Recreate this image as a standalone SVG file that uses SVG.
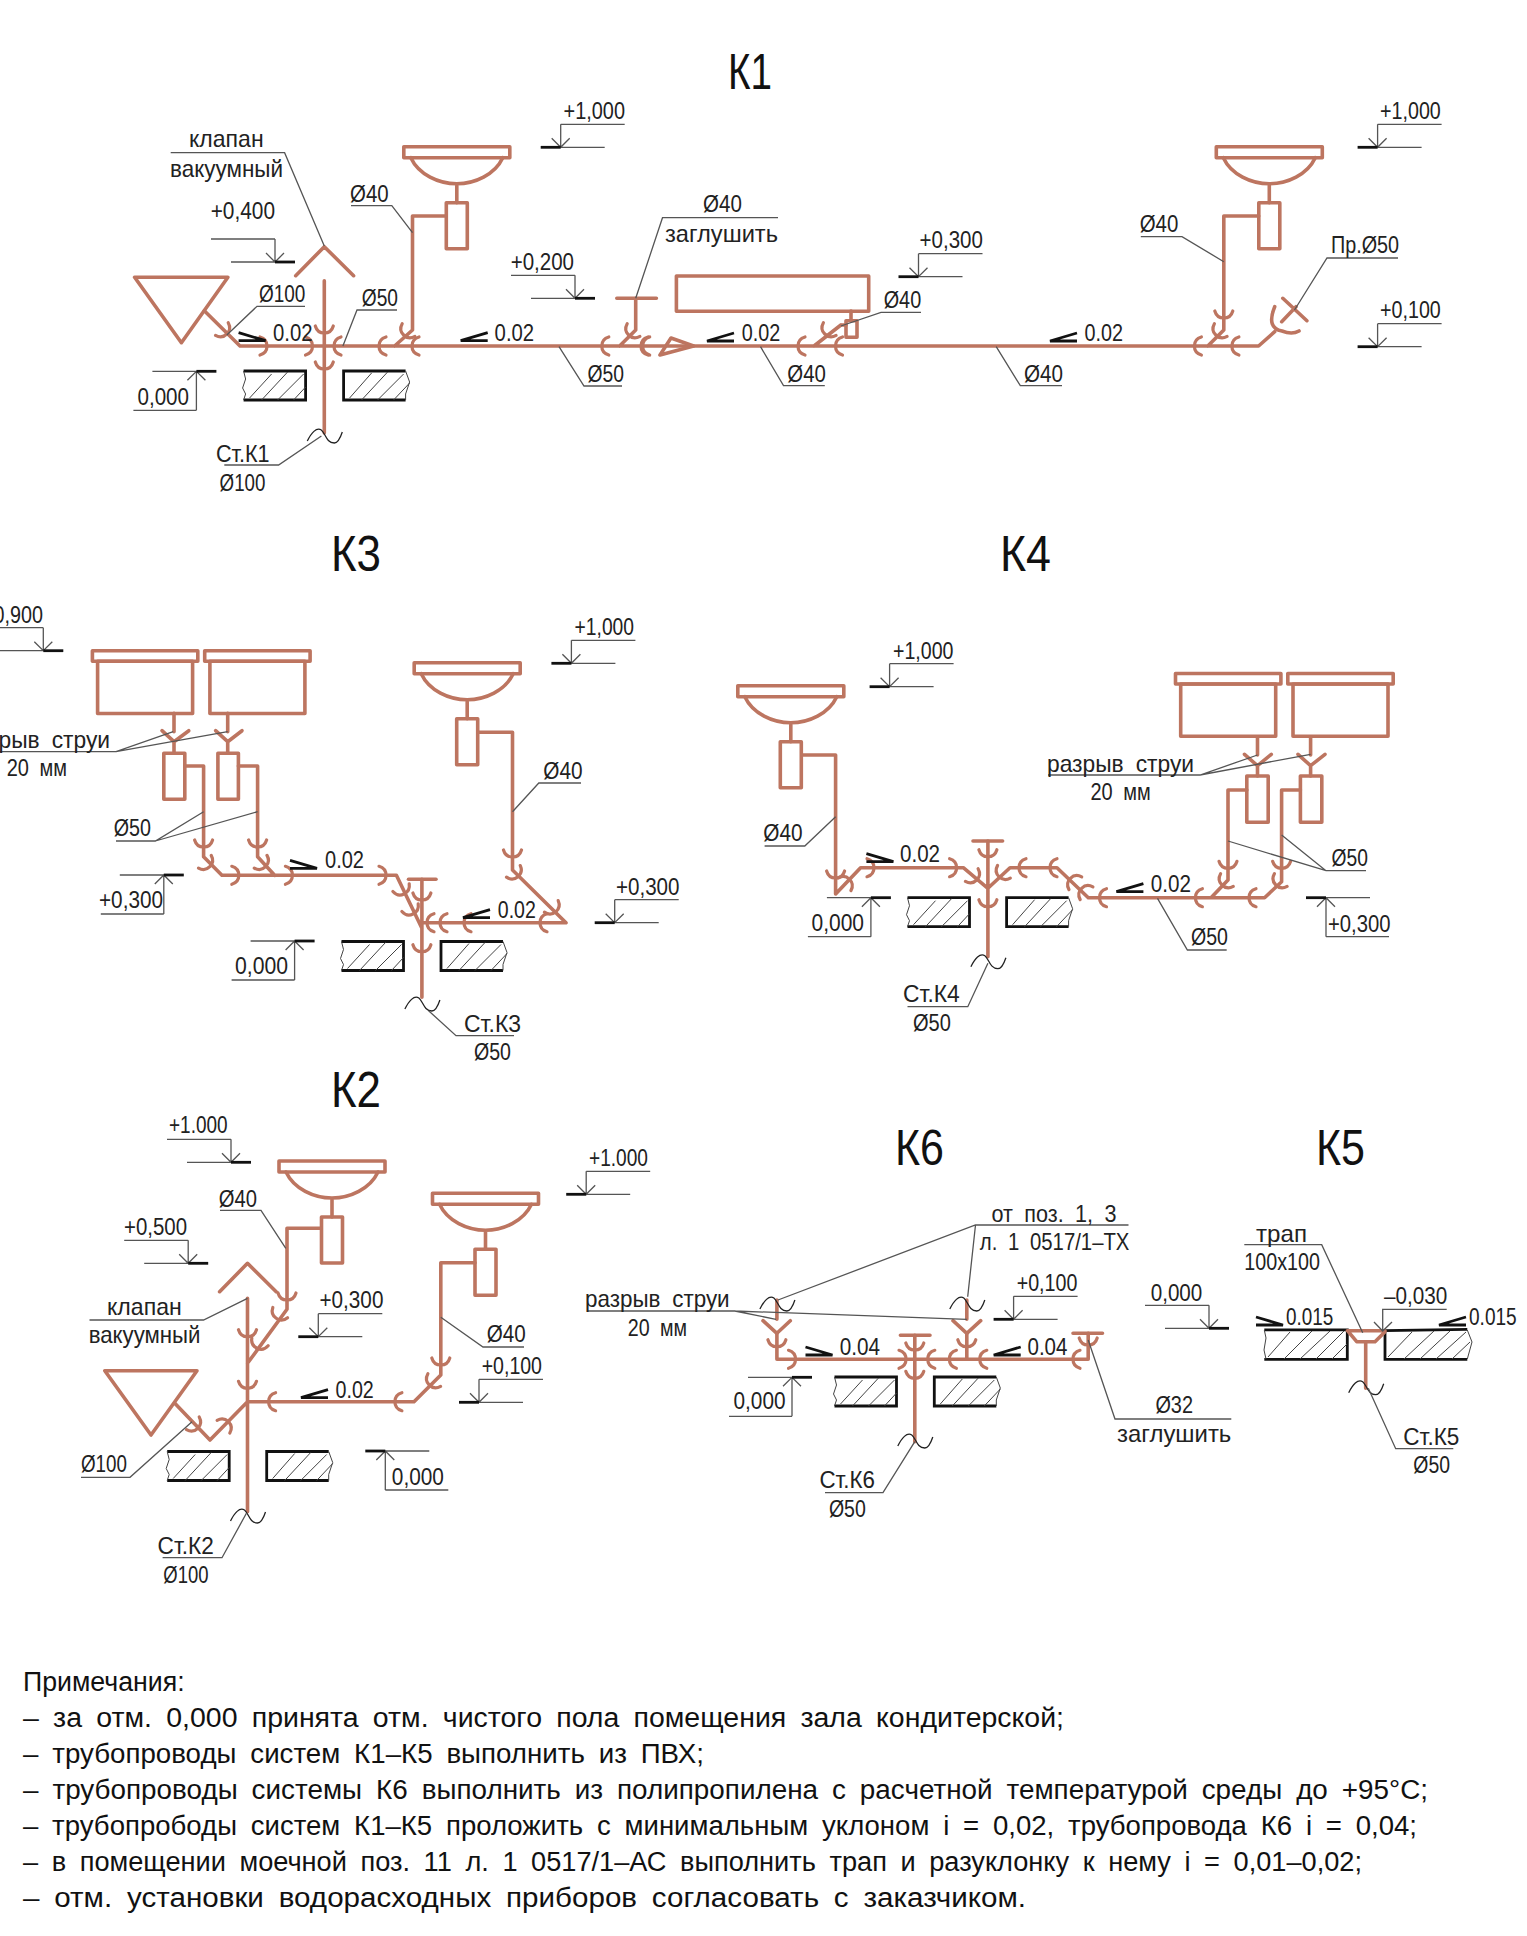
<svg xmlns="http://www.w3.org/2000/svg" width="1527" height="1936" viewBox="0 0 1527 1936">
<style>
text{font-family:"Liberation Sans","DejaVu Sans",sans-serif;font-size:24px;word-spacing:6px;fill:#222}
.ti{font-size:50px;fill:#111}
.no{font-size:27px;word-spacing:6px;fill:#111}
.p{fill:none;stroke:#bd7560;stroke-width:3.6;stroke-linejoin:round;stroke-linecap:round}
.m{fill:none;stroke:#bd7560;stroke-width:3.2;stroke-linecap:round}
.t{fill:none;stroke:#555;stroke-width:1.3}
.w{fill:none;stroke:#222;stroke-width:1.3}
.b{fill:none;stroke:#111;stroke-width:2.8}
.h{fill:none;stroke:#444;stroke-width:1}
</style>
<defs>
<path id="m" class="m" d="M-7,-9Q0,-7 0,0Q0,7 -7,9"/>
<g id="ld"><path class="t" d="M0,-23V0M-9,-9L0,0L9,-9M0,-23H64M0,0H44"/><path class="b" d="M-20,0H0"/></g>
<g id="lu"><path class="t" d="M0,39V0M-9,9L0,0L9,9M0,39H-63M-44,0H0"/><path class="b" d="M0,0H20"/></g>
<path id="wr" class="b" d="M0,-8L27,0H0"/>
<path id="wl" class="b" d="M27,-8L0,0H27"/>
<path id="wv" class="w" d="M-17,6C-13,-2 -8,-8 -3,-5C1,-2 2,8 10,8C13,8 16,3 18,-3"/>
<g id="sink" class="p"><rect x="-53" y="0" width="106" height="11"/><path d="M-46,11C-38,28 -18,37 0,37C18,37 38,28 46,11M0,37V56"/><rect x="-10.5" y="56" width="21" height="46"/></g>
<g id="tub" class="p"><rect x="-52.7" y="0" width="105.4" height="10.5"/><rect x="-47.5" y="10.5" width="95" height="52.3"/></g>
<g id="sl"><path class="b" d="M0,0H62V29H0"/><path class="h" d="M0,0L2,8L-1,17L2,23L0,29M6,27L28,3M18,29L44,1M34,29L60,3M50,29L62,16"/></g>
<g id="sr"><path class="b" d="M62,0H0V29H62"/><path class="h" d="M62,0L66,11L62,23L62,29M6,27L28,2M18,29L44,1M34,29L60,3M50,29L66,12"/></g>
</defs>
<rect width="1527" height="1936" fill="#fff"/>

<g id="K1">
<text class="ti" x="728" y="89" textLength="44" lengthAdjust="spacingAndGlyphs">К1</text>
<g id="K1-fixtures">
<path class="p" d="M134.6,277.3H227.9L181.4,342.7ZM295.7,275.7L324.3,246.7L353.6,275.7"/>
<use href="#sink" x="456.8" y="146.7"/>
<use href="#sink" x="1269.3" y="146.7"/>
<rect class="p" x="676.4" y="276" width="192.3" height="35.3"/>
<rect class="p" x="846" y="320.7" width="11" height="16.6"/>
<path class="p" d="M851,311V320.7M660,355L693.6,346L671,338ZM616.8,298.3H656.4"/>
<path class="p" d="M1274.7,306.7Q1266,328 1282,331Q1292,335 1299,331M1282.8,298.3L1306.9,320.7M1281.7,321.7L1296,306.7"/>
</g>
<g id="K1-pipes">
<path class="p" d="M204.3,310.7L240,346H1258.6L1274.7,331.7M324.3,280.7V433M412.5,216H445.7M412.5,216V330L394.6,346M635.7,298.3V330L619.6,346M840.9,325L814,346M840.9,325H846M1223.8,216H1258.7M1223.8,216V330L1207.8,346"/>
<use href="#m" transform="translate(226.8,334) rotate(45)"/>
<use href="#m" transform="translate(267,346)"/>
<use href="#m" transform="translate(312.5,346)"/>
<use href="#m" transform="translate(334,346) rotate(180)"/>
<use href="#m" transform="translate(379,346) rotate(180)"/>
<use href="#m" transform="translate(412,346) rotate(180)"/>
<use href="#m" transform="translate(324.3,333) rotate(90)"/>
<use href="#m" transform="translate(324.3,369) rotate(90)"/>
<use href="#m" transform="translate(403.6,335) rotate(135)"/>
<use href="#m" transform="translate(601.8,346) rotate(180)"/>
<use href="#m" transform="translate(641,346) rotate(180)"/>
<use href="#m" transform="translate(628.6,335) rotate(135)"/>
<use href="#m" transform="translate(642.7,346) rotate(180)"/>
<use href="#m" transform="translate(798,346) rotate(180)"/>
<use href="#m" transform="translate(835.5,346) rotate(180)"/>
<use href="#m" transform="translate(824.8,334) rotate(135)"/>
<use href="#m" transform="translate(1223.8,318) rotate(90)"/>
<use href="#m" transform="translate(1215.8,335) rotate(135)"/>
<use href="#m" transform="translate(1194.4,346) rotate(180)"/>
<use href="#m" transform="translate(1231.9,346) rotate(180)"/>
</g>
<g id="K1-labels">
<use href="#sl" x="243.6" y="371"/><use href="#sr" x="343.6" y="371"/>
<use href="#wv" x="324.3" y="435"/>
<use href="#wr" x="238.6" y="340.7"/><use href="#wl" x="460.7" y="340.7"/><use href="#wl" x="707" y="341"/><use href="#wl" x="1050" y="341"/>
<use href="#ld" x="560.7" y="147.3"/>
<use href="#ld" transform="translate(275,262) scale(-1,1)"/>
<use href="#ld" transform="translate(575,298.3) scale(-1,1)"/>
<use href="#lu" x="196.4" y="371.3"/>
<use href="#ld" x="918.5" y="276.7"/><use href="#ld" x="1377.6" y="147.3"/><use href="#ld" x="1377.6" y="346.7"/>
<path class="t" d="M170.7,152.7H284.6L324.3,246M351,205.7H391.8L412.5,232.7M305,306.3H257L226.8,335M397,310H357L342.9,346M622,386H584L559,346.7M224.3,465H278.6L321.4,436M778,217.7H662.5L635.7,298.3M921,312.3H881L840.9,326M824.8,385.7H783.5L760.5,346.7M1062,385.7H1020.3L996.2,346.7M1140.8,236.7H1182L1223.8,261.7M1398,258H1327L1294.5,310"/>
<text x="273" y="340.7" textLength="39.5" lengthAdjust="spacingAndGlyphs">0.02</text>
<text x="494.6" y="340.7" textLength="39.5" lengthAdjust="spacingAndGlyphs">0.02</text>
<text x="741.8" y="341" textLength="38.5" lengthAdjust="spacingAndGlyphs">0.02</text>
<text x="1084.6" y="341" textLength="38.5" lengthAdjust="spacingAndGlyphs">0.02</text>
<text x="189" y="147.3" textLength="74.6" lengthAdjust="spacingAndGlyphs">клапан</text>
<text x="170" y="176.7" textLength="113" lengthAdjust="spacingAndGlyphs">вакуумный</text>
<text x="210.7" y="219" textLength="64.3" lengthAdjust="spacingAndGlyphs">+0,400</text>
<text x="563.6" y="119" textLength="61.4" lengthAdjust="spacingAndGlyphs">+1,000</text>
<text x="510.7" y="270" textLength="63.3" lengthAdjust="spacingAndGlyphs">+0,200</text>
<text x="137.5" y="405" textLength="51.5" lengthAdjust="spacingAndGlyphs">0,000</text>
<text x="350" y="201.7" textLength="38.6" lengthAdjust="spacingAndGlyphs">Ø40</text>
<text x="259" y="301.7" textLength="46.4" lengthAdjust="spacingAndGlyphs">Ø100</text>
<text x="361.8" y="306" textLength="36.2" lengthAdjust="spacingAndGlyphs">Ø50</text>
<text x="587.5" y="381.7" textLength="36.5" lengthAdjust="spacingAndGlyphs">Ø50</text>
<text x="216" y="462.3" textLength="53.6" lengthAdjust="spacingAndGlyphs">Ст.К1</text>
<text x="219.6" y="490.7" textLength="45.8" lengthAdjust="spacingAndGlyphs">Ø100</text>
<text x="703" y="212.3" textLength="38.8" lengthAdjust="spacingAndGlyphs">Ø40</text>
<text x="665" y="242.3" textLength="113" lengthAdjust="spacingAndGlyphs">заглушить</text>
<text x="919.6" y="247.7" textLength="63.2" lengthAdjust="spacingAndGlyphs">+0,300</text>
<text x="883.7" y="308.3" textLength="37.5" lengthAdjust="spacingAndGlyphs">Ø40</text>
<text x="787.3" y="381.7" textLength="38.6" lengthAdjust="spacingAndGlyphs">Ø40</text>
<text x="1024" y="381.7" textLength="39" lengthAdjust="spacingAndGlyphs">Ø40</text>
<text x="1139.7" y="232.3" textLength="38.6" lengthAdjust="spacingAndGlyphs">Ø40</text>
<text x="1331" y="253.3" textLength="68" lengthAdjust="spacingAndGlyphs">Пр.Ø50</text>
<text x="1380" y="119" textLength="60.8" lengthAdjust="spacingAndGlyphs">+1,000</text>
<text x="1380" y="317.7" textLength="60.8" lengthAdjust="spacingAndGlyphs">+0,100</text>
</g>
</g>

<g id="K3">
<text class="ti" x="331" y="571" textLength="50" lengthAdjust="spacingAndGlyphs">К3</text>
<g id="K3-fixtures">
<use href="#tub" x="145.1" y="650.7"/><use href="#tub" x="257.4" y="650.7"/>
<use href="#sink" x="467.2" y="662.7"/>
<path class="p" d="M174,713.3V731.7M227.7,713.3V731.7M162,730.7L174,741.7L188.8,730.7M174,741.7V753.3M215.6,730.7L227.7,741.7L242,730.7M227.7,741.7V753.3"/>
<rect class="p" x="163.8" y="753.3" width="21" height="46"/><rect class="p" x="217.9" y="753.3" width="20.5" height="46"/>
<path class="p" d="M408.5,879.3H436"/>
</g>
<g id="K3-pipes">
<path class="p" d="M184.8,766H203.6V856.7L221.9,875.3H396.4L421.9,928.3M238.4,766H257.6V856.7L274.6,875.3M421.9,879.3V997.3M477.7,732.3H512.5V870L566,922.7H421.9"/>
<use href="#m" transform="translate(203.6,847) rotate(90)"/>
<use href="#m" transform="translate(257.6,847) rotate(90)"/>
<use href="#m" transform="translate(209.8,866.7) rotate(45)"/>
<use href="#m" transform="translate(265.6,866.7) rotate(45)"/>
<use href="#m" transform="translate(238.8,875.3)"/>
<use href="#m" transform="translate(292.4,875.3)"/>
<use href="#m" transform="translate(386,875.3)"/>
<use href="#m" transform="translate(404,894) rotate(65)"/>
<use href="#m" transform="translate(413,914) rotate(65)"/>
<use href="#m" transform="translate(421.9,900) rotate(90)"/>
<use href="#m" transform="translate(421.9,951.7) rotate(90)"/>
<use href="#m" transform="translate(427,922.7) rotate(180)"/>
<use href="#m" transform="translate(440,922.7) rotate(180)"/>
<use href="#m" transform="translate(464,922.7) rotate(180)"/>
<use href="#m" transform="translate(540,922.7) rotate(180)"/>
<use href="#m" transform="translate(512.5,857) rotate(90)"/>
<use href="#m" transform="translate(517.9,876.7) rotate(50)"/>
<use href="#m" transform="translate(555.8,911.7) rotate(50)"/>
</g>
<g id="K3-labels">
<use href="#sl" x="341.5" y="941.5"/><use href="#sr" x="441" y="941.5"/>
<use href="#wv" x="421.9" y="1003"/>
<use href="#wr" x="290" y="868.3"/><use href="#wl" x="463" y="917.7"/>
<use href="#ld" transform="translate(43.3,650.7) scale(-1,1)"/>
<use href="#ld" x="571.4" y="663.3"/><use href="#ld" x="614.7" y="922.7"/>
<use href="#lu" x="163.8" y="875"/><use href="#lu" x="294.6" y="941"/>
<path class="t" d="M-40,751.7H116L173.2,731.7M116,751.7L227.7,731.7M116,841H155.4L203.6,811.7M155.4,841L257.6,811.7M581,783H538.8L512.5,811.7M514,1035.7H456L428.6,1010.7"/>
<text x="-18" y="622.7" textLength="61" lengthAdjust="spacingAndGlyphs">+0,900</text>
<text x="-37" y="748.3" textLength="147" lengthAdjust="spacingAndGlyphs">разрыв струи</text>
<text x="6.7" y="776" textLength="60.3" lengthAdjust="spacingAndGlyphs">20 мм</text>
<text x="113.8" y="836" textLength="37.2" lengthAdjust="spacingAndGlyphs">Ø50</text>
<text x="99" y="908.3" textLength="64" lengthAdjust="spacingAndGlyphs">+0,300</text>
<text x="235" y="974.3" textLength="53" lengthAdjust="spacingAndGlyphs">0,000</text>
<text x="574.6" y="635" textLength="59.4" lengthAdjust="spacingAndGlyphs">+1,000</text>
<text x="543.3" y="779.3" textLength="39.3" lengthAdjust="spacingAndGlyphs">Ø40</text>
<text x="616" y="895" textLength="63.5" lengthAdjust="spacingAndGlyphs">+0,300</text>
<text x="325" y="868.3" textLength="39" lengthAdjust="spacingAndGlyphs">0.02</text>
<text x="497.8" y="917.7" textLength="38" lengthAdjust="spacingAndGlyphs">0.02</text>
<text x="464" y="1031.7" textLength="57" lengthAdjust="spacingAndGlyphs">Ст.К3</text>
<text x="474" y="1060" textLength="37" lengthAdjust="spacingAndGlyphs">Ø50</text>
</g>
</g>

<g id="K4">
<text class="ti" x="1000" y="571" textLength="51" lengthAdjust="spacingAndGlyphs">К4</text>
<g id="K4-fixtures">
<use href="#sink" x="790.8" y="685.7"/>
<use href="#tub" x="1228.2" y="673.5"/><use href="#tub" x="1340.5" y="673.5"/>
<path class="p" d="M1257.5,736.7V755M1244.5,754.3L1257.5,765.7L1271.3,754.3M1257.5,765.7V776M1310.6,736.7V755M1298,754.3L1310.6,765.7L1325,754.3M1310.6,765.7V776M973,841H1002.6"/>
<rect class="p" x="1246.8" y="776" width="21.4" height="46.3"/><rect class="p" x="1300.4" y="776" width="21.4" height="46.3"/>
</g>
<g id="K4-pipes">
<path class="p" d="M802,755H835.6V894L860.6,867.7H963.3L987.9,888.3M987.9,841V956.7M987.9,888.3L1010,867.7H1057L1088.3,897.7H1264.6L1281.6,881.7V790H1300.4M1211,897.7L1228,880V790H1246.8"/>
<use href="#m" transform="translate(835.6,878) rotate(90)"/>
<use href="#m" transform="translate(849.5,879.3) rotate(-45)"/>
<use href="#m" transform="translate(874,867.7)"/>
<use href="#m" transform="translate(956.6,867.7)"/>
<use href="#m" transform="translate(976.7,880) rotate(45)"/>
<use href="#m" transform="translate(999,876.7) rotate(135)"/>
<use href="#m" transform="translate(987.9,856.7) rotate(90)"/>
<use href="#m" transform="translate(987.9,906.7) rotate(90)"/>
<use href="#m" transform="translate(1019,867.7) rotate(180)"/>
<use href="#m" transform="translate(1050,867.7) rotate(180)"/>
<use href="#m" transform="translate(1070.4,878.3) rotate(225)"/>
<use href="#m" transform="translate(1081.6,888.3) rotate(225)"/>
<use href="#m" transform="translate(1099.5,897.7) rotate(180)"/>
<use href="#m" transform="translate(1195.4,897.7) rotate(180)"/>
<use href="#m" transform="translate(1249,897.7) rotate(180)"/>
<use href="#m" transform="translate(1228,868.3) rotate(90)"/>
<use href="#m" transform="translate(1281.6,868.3) rotate(90)"/>
<use href="#m" transform="translate(1222,885) rotate(135)"/>
<use href="#m" transform="translate(1275.8,885) rotate(135)"/>
</g>
<g id="K4-labels">
<use href="#sl" x="907.5" y="897.7"/><use href="#sr" x="1006.6" y="897.7"/>
<use href="#wv" x="987.9" y="960.7"/>
<use href="#wr" x="866.4" y="861.7"/><use href="#wl" x="1116.4" y="891.7"/>
<use href="#ld" x="889.6" y="686.7"/>
<use href="#lu" x="870.9" y="897.7"/>
<use href="#lu" transform="translate(1326,897.7) scale(-1,1)"/>
<path class="t" d="M1048,775H1200L1257.5,755M1200,775L1310.6,754.3M764.6,846H804.8L835.6,816.7M1226.7,950H1187.4L1157.5,898.3M1366,870.7H1326L1228,841M1326,870.7L1281.6,835M907.5,1006.7H967.8L987.9,963.3"/>
<text x="893" y="659" textLength="60.5" lengthAdjust="spacingAndGlyphs">+1,000</text>
<text x="1047" y="771.7" textLength="147" lengthAdjust="spacingAndGlyphs">разрыв струи</text>
<text x="1090.5" y="800" textLength="60.3" lengthAdjust="spacingAndGlyphs">20 мм</text>
<text x="763.3" y="841" textLength="39.3" lengthAdjust="spacingAndGlyphs">Ø40</text>
<text x="811.5" y="931" textLength="52.5" lengthAdjust="spacingAndGlyphs">0,000</text>
<text x="900" y="861.7" textLength="40" lengthAdjust="spacingAndGlyphs">0.02</text>
<text x="1150.8" y="891.7" textLength="40.2" lengthAdjust="spacingAndGlyphs">0.02</text>
<text x="1191" y="945" textLength="37" lengthAdjust="spacingAndGlyphs">Ø50</text>
<text x="1331.6" y="866" textLength="36.4" lengthAdjust="spacingAndGlyphs">Ø50</text>
<text x="1328" y="931.7" textLength="62.5" lengthAdjust="spacingAndGlyphs">+0,300</text>
<text x="903" y="1001.7" textLength="56.7" lengthAdjust="spacingAndGlyphs">Ст.К4</text>
<text x="912.9" y="1031" textLength="37.9" lengthAdjust="spacingAndGlyphs">Ø50</text>
</g>
</g>

<g id="K2">
<text class="ti" x="331" y="1107" textLength="50" lengthAdjust="spacingAndGlyphs">К2</text>
<g id="K2-fixtures">
<use href="#sink" x="332" y="1161"/><use href="#sink" x="485.5" y="1193.3"/>
<path class="p" d="M104.8,1370.7H197L151,1435ZM219.6,1291.7L247.5,1263.3L276.2,1291.7"/>
</g>
<g id="K2-pipes">
<path class="p" d="M321,1228.3H287V1309.3L247.5,1363.3M247.5,1298.3V1511.7M475,1262.7H440.8V1375L414,1401.7H247.5M174.8,1403.3L210,1440L247.5,1401.7"/>
<use href="#m" transform="translate(287,1300) rotate(90)"/>
<use href="#m" transform="translate(276.2,1318.3) rotate(125)"/>
<use href="#m" transform="translate(257,1348.3) rotate(115)"/>
<use href="#m" transform="translate(247.5,1336.7) rotate(90)"/>
<use href="#m" transform="translate(247.5,1388.3) rotate(90)"/>
<use href="#m" transform="translate(440.8,1365) rotate(90)"/>
<use href="#m" transform="translate(429.3,1385) rotate(135)"/>
<use href="#m" transform="translate(394.9,1401.7) rotate(180)"/>
<use href="#m" transform="translate(268.6,1401.7) rotate(180)"/>
<use href="#m" transform="translate(197.8,1428.3) rotate(45)"/>
<use href="#m" transform="translate(228.4,1421.7) rotate(-45)"/>
</g>
<g id="K2-labels">
<use href="#sl" x="167.2" y="1451.5"/><use href="#sr" x="266.7" y="1451.5"/>
<use href="#wv" x="247.5" y="1515"/>
<use href="#wl" x="301" y="1397.7"/>
<use href="#ld" transform="translate(231,1162.3) scale(-1,1)"/>
<use href="#ld" transform="translate(188.2,1263.3) scale(-1,1)"/>
<use href="#ld" x="318.3" y="1336.7"/><use href="#ld" x="586.2" y="1194.3"/><use href="#ld" x="479" y="1402.3"/>
<use href="#lu" transform="translate(385.3,1451) scale(-1,1)"/>
<path class="t" d="M220,1210.3H261L285.8,1248.3M89.5,1320H203.5L247.5,1298.3M524,1347H483L440.8,1317.3M81,1477.3H130L192,1421.7M162.6,1557.7H222L246.4,1513.3"/>
<text x="169" y="1133.3" textLength="58.6" lengthAdjust="spacingAndGlyphs">+1.000</text>
<text x="124" y="1235" textLength="63" lengthAdjust="spacingAndGlyphs">+0,500</text>
<text x="218.8" y="1206.7" textLength="38.2" lengthAdjust="spacingAndGlyphs">Ø40</text>
<text x="319.5" y="1307.7" textLength="63.9" lengthAdjust="spacingAndGlyphs">+0,300</text>
<text x="107" y="1315" textLength="74.7" lengthAdjust="spacingAndGlyphs">клапан</text>
<text x="88.7" y="1342.7" textLength="111.8" lengthAdjust="spacingAndGlyphs">вакуумный</text>
<text x="589" y="1165.7" textLength="59" lengthAdjust="spacingAndGlyphs">+1.000</text>
<text x="486.7" y="1342.3" textLength="39" lengthAdjust="spacingAndGlyphs">Ø40</text>
<text x="481.7" y="1374" textLength="60.3" lengthAdjust="spacingAndGlyphs">+0,100</text>
<text x="335.5" y="1397.7" textLength="38.3" lengthAdjust="spacingAndGlyphs">0.02</text>
<text x="81" y="1472.3" textLength="46" lengthAdjust="spacingAndGlyphs">Ø100</text>
<text x="391.8" y="1485" textLength="52.1" lengthAdjust="spacingAndGlyphs">0,000</text>
<text x="157.6" y="1554.3" textLength="56.2" lengthAdjust="spacingAndGlyphs">Ст.К2</text>
<text x="163.3" y="1582.7" textLength="45.2" lengthAdjust="spacingAndGlyphs">Ø100</text>
</g>
</g>

<g id="K6">
<text class="ti" x="895" y="1165" textLength="49" lengthAdjust="spacingAndGlyphs">К6</text>
<g id="K6-fixtures">
<path class="p" d="M763,1320.7L776.9,1333.3L790.3,1320.7M953,1320.7L966.8,1333.3L980.7,1320.7M900.4,1335.3H930M1073,1333.3H1102.5"/>
</g>
<g id="K6-pipes">
<path class="p" d="M776.9,1300V1319.3M776.9,1333.3V1359.3H1088.2V1333.3M966.8,1300V1319.3M966.8,1333.3V1359.3M914.8,1335.3V1441.7"/>
<use href="#m" transform="translate(776.9,1346.7) rotate(90)"/>
<use href="#m" transform="translate(966.8,1346.7) rotate(90)"/>
<use href="#m" transform="translate(914.8,1350) rotate(90)"/>
<use href="#m" transform="translate(914.8,1378.3) rotate(90)"/>
<use href="#m" transform="translate(1088.2,1345) rotate(90)"/>
<use href="#m" transform="translate(795.5,1359.3)"/>
<use href="#m" transform="translate(906,1359.3)"/>
<use href="#m" transform="translate(927.8,1359.3) rotate(180)"/>
<use href="#m" transform="translate(949.4,1359.3) rotate(180)"/>
<use href="#m" transform="translate(979.8,1359.3) rotate(180)"/>
<use href="#m" transform="translate(1073,1359.3) rotate(180)"/>
</g>
<g id="K6-labels">
<use href="#sl" x="834.5" y="1377"/><use href="#sr" x="934.3" y="1377"/>
<use href="#wv" x="776.9" y="1303"/><use href="#wv" x="966.8" y="1303"/><use href="#wv" x="914.8" y="1440"/>
<use href="#wr" x="805.5" y="1355"/><use href="#wl" x="993.7" y="1355"/>
<use href="#lu" x="792" y="1377.3"/><use href="#ld" x="1013.6" y="1319.3"/>
<path class="t" d="M1128.5,1225H975.5L778,1300M975.5,1225L967.7,1296.7M587,1311H734.8L776,1319.3M734.8,1311L966.8,1319.3M1231.3,1419H1115L1088.2,1340M825,1492.7H883L914.8,1441.7"/>
<text x="991.5" y="1222.3" textLength="124.9" lengthAdjust="spacingAndGlyphs">от поз. 1, 3</text>
<text x="979.8" y="1250" textLength="149.6" lengthAdjust="spacingAndGlyphs">л. 1 0517/1–ТХ</text>
<text x="585" y="1307.3" textLength="144.6" lengthAdjust="spacingAndGlyphs">разрыв струи</text>
<text x="627.7" y="1335.7" textLength="59.3" lengthAdjust="spacingAndGlyphs">20 мм</text>
<text x="733.5" y="1409.3" textLength="52" lengthAdjust="spacingAndGlyphs">0,000</text>
<text x="1016.7" y="1290.7" textLength="60.7" lengthAdjust="spacingAndGlyphs">+0,100</text>
<text x="839.7" y="1355" textLength="40.3" lengthAdjust="spacingAndGlyphs">0.04</text>
<text x="1027.5" y="1355" textLength="39.9" lengthAdjust="spacingAndGlyphs">0.04</text>
<text x="1155.4" y="1413.3" textLength="37.6" lengthAdjust="spacingAndGlyphs">Ø32</text>
<text x="1117" y="1441.7" textLength="114.3" lengthAdjust="spacingAndGlyphs">заглушить</text>
<text x="819.4" y="1488.3" textLength="55.5" lengthAdjust="spacingAndGlyphs">Ст.К6</text>
<text x="828.9" y="1517.3" textLength="36.9" lengthAdjust="spacingAndGlyphs">Ø50</text>
</g>
</g>

<g id="K5">
<text class="ti" x="1316" y="1165" textLength="49" lengthAdjust="spacingAndGlyphs">К5</text>
<g id="K5-floor">
<path class="b" d="M1264.3,1329.8H1347.3V1359.3H1264.3M1467.3,1329.3L1385,1330.7V1359.3H1467.3"/>
<path class="h" d="M1264.3,1330L1266,1338L1264,1350L1266,1359M1467.3,1330L1472,1342L1467.3,1359M1268,1357L1290,1332M1284,1359L1312,1331M1300,1359L1330,1331M1316,1359L1344,1331M1332,1359L1347,1344M1388,1357L1412,1332M1404,1359L1434,1331M1420,1359L1450,1331M1436,1359L1466,1332M1452,1359L1470,1342"/>
</g>
<g id="K5-trap">
<path class="p" d="M1347.3,1330.7H1385M1348.3,1331.7L1356.7,1341.7H1375L1385,1331.7M1365.7,1341.7V1388.3"/>
</g>
<g id="K5-labels">
<use href="#wv" x="1365.7" y="1386.7"/>
<use href="#wr" x="1256" y="1325"/><use href="#wl" x="1439" y="1325"/>
<use href="#ld" transform="translate(1209,1328.3) scale(-1,1)"/>
<path class="t" d="M1244.3,1244.7H1321.7L1362.7,1332.7M1446.7,1309.3H1382.7V1330.7M1374,1322L1382.7,1331L1392,1322M1453.3,1448.7H1395.7L1368.3,1388.3"/>
<text x="1150.7" y="1301" textLength="51.6" lengthAdjust="spacingAndGlyphs">0,000</text>
<text x="1286" y="1325" textLength="47.3" lengthAdjust="spacingAndGlyphs">0.015</text>
<text x="1469" y="1325" textLength="47.7" lengthAdjust="spacingAndGlyphs">0.015</text>
<text x="1384" y="1304" textLength="63.3" lengthAdjust="spacingAndGlyphs">–0,030</text>
<text x="1256" y="1241.7" textLength="51" lengthAdjust="spacingAndGlyphs">трап</text>
<text x="1244.3" y="1270" textLength="75.7" lengthAdjust="spacingAndGlyphs">100х100</text>
<text x="1403.3" y="1445" textLength="56" lengthAdjust="spacingAndGlyphs">Ст.К5</text>
<text x="1413.3" y="1473.3" textLength="36.7" lengthAdjust="spacingAndGlyphs">Ø50</text>
</g>
</g>

<g id="notes">
<text class="no" x="23" y="1690.7" textLength="161.7" lengthAdjust="spacingAndGlyphs">Примечания:</text>
<text class="no" x="23" y="1727.3" textLength="1041" lengthAdjust="spacingAndGlyphs">– за отм. 0,000 принята отм. чистого пола помещения зала кондитерской;</text>
<text class="no" x="23" y="1763.3" textLength="681" lengthAdjust="spacingAndGlyphs">– трубопроводы систем К1–К5 выполнить из ПВХ;</text>
<text class="no" x="23" y="1799" textLength="1405" lengthAdjust="spacingAndGlyphs">– трубопроводы системы К6 выполнить из полипропилена с расчетной температурой среды до +95°С;</text>
<text class="no" x="23" y="1835" textLength="1394" lengthAdjust="spacingAndGlyphs">– трубопрободы систем К1–К5 проложить с минимальным уклоном i = 0,02, трубопровода К6 i = 0,04;</text>
<text class="no" x="23" y="1871" textLength="1339" lengthAdjust="spacingAndGlyphs">– в помещении моечной поз. 11 л. 1 0517/1–АС выполнить трап и разуклонку к нему i = 0,01–0,02;</text>
<text class="no" x="23" y="1906.7" textLength="1003" lengthAdjust="spacingAndGlyphs">– отм. установки водорасходных приборов согласовать с заказчиком.</text>
</g>
</svg>
